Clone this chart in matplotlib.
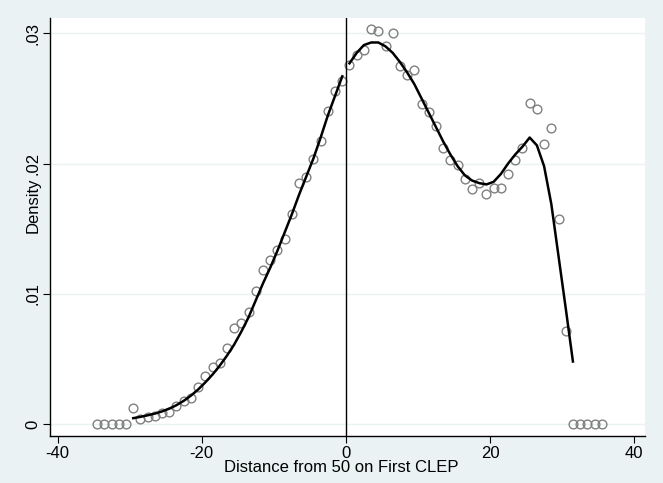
import matplotlib.pyplot as plt
import numpy as np

plt.rcParams['font.family'] = ['Liberation Sans', 'DejaVu Sans']
plt.rcParams['axes.unicode_minus'] = False

# binned density (hollow circles)
bin_x = np.arange(-34.5, 36.0, 1.0)
density = [
    0, 0, 0, 0, 0,
    0.00125, 0.00038, 0.00056, 0.00064, 0.00082, 0.00095, 0.0014, 0.0018, 0.002,
    0.00286, 0.00371, 0.00435, 0.00466, 0.00581, 0.0074, 0.00778, 0.00858,
    0.01024, 0.01179, 0.01257, 0.01336, 0.01419, 0.01613, 0.01849, 0.01899,
    0.02033, 0.02171, 0.02404, 0.0256, 0.02634,
    0.02757, 0.02834, 0.0287, 0.03034, 0.0302, 0.0290, 0.03001, 0.02752,
    0.0268, 0.02719, 0.02458, 0.02399, 0.02291, 0.02118, 0.02028, 0.01989,
    0.01879, 0.01803, 0.01849, 0.01767, 0.01815, 0.01815, 0.01922, 0.0203,
    0.0212, 0.02468, 0.02419, 0.02148, 0.02276, 0.01572, 0.00714,
    0, 0, 0, 0, 0,
]

# fitted density, left of cutoff
left_x = np.arange(-29.5, 0, 1.0)
left_fit = [
    0.00045, 0.00055, 0.00067, 0.0008, 0.00097, 0.00118, 0.00145, 0.00178,
    0.00218, 0.00265, 0.0032, 0.0038, 0.00448, 0.00525, 0.0061, 0.0071,
    0.0082, 0.0095, 0.0108, 0.0120, 0.0133, 0.0147, 0.0161, 0.0176,
    0.0190, 0.0204, 0.0220, 0.0237, 0.0252, 0.0267,
]

# fitted density, right of cutoff
right_x = np.arange(0.5, 32.0, 1.0)
right_fit = [
    0.0277, 0.0285, 0.0291, 0.0293, 0.0293, 0.0290, 0.0285, 0.0278,
    0.0270, 0.0261, 0.0250, 0.0239, 0.0228, 0.0217, 0.0207, 0.0198,
    0.0191, 0.0187, 0.0185, 0.0184, 0.0186, 0.0192, 0.0200, 0.0207,
    0.0213, 0.0220, 0.0214, 0.0198, 0.0169, 0.0129, 0.0089, 0.0048,
]

bg = '#eaf2f3'
fig = plt.figure(figsize=(6.63, 4.83), dpi=100, facecolor=bg)
ax = fig.add_axes([50/663, 47/483, 595/663, 418/483])
ax.set_facecolor('white')

ax.set_xlim(-41.05, 41.5)
ax.set_ylim(-0.00092, 0.03118)

yt = [0, 0.01, 0.02, 0.03]
for y in yt:
    ax.axhline(y, color=bg, lw=1.0, zorder=0)

ax.plot(bin_x, density, 'o', mfc='none', mec='#808080', ms=6.3, mew=1.0, zorder=2)
ax.plot(left_x, left_fit, color='black', lw=1.8, zorder=3)
ax.plot(right_x, right_fit, color='black', lw=1.8, zorder=3)
ax.axvline(0, color='black', lw=1.0, zorder=4)

ax.set_xticks([-40, -20, 0, 20, 40])
ax.set_yticks(yt)
ax.set_yticklabels(['0', '.01', '.02', '.03'], rotation=90, va='center')
ax.tick_params(axis='both', direction='out', length=5, width=0.8, labelsize=12, pad=2)

for s in ['top', 'right']:
    ax.spines[s].set_visible(False)
for s in ['left', 'bottom']:
    ax.spines[s].set_linewidth(1.0)

fig.text(33/663, 1 - 205/483, 'Density', rotation=90, ha='center', va='center', fontsize=12)
fig.text(341/663, 1 - 467/483, 'Distance from 50 on First CLEP', ha='center', va='center', fontsize=12)

fig.savefig('out.png', dpi=100, facecolor=bg)
